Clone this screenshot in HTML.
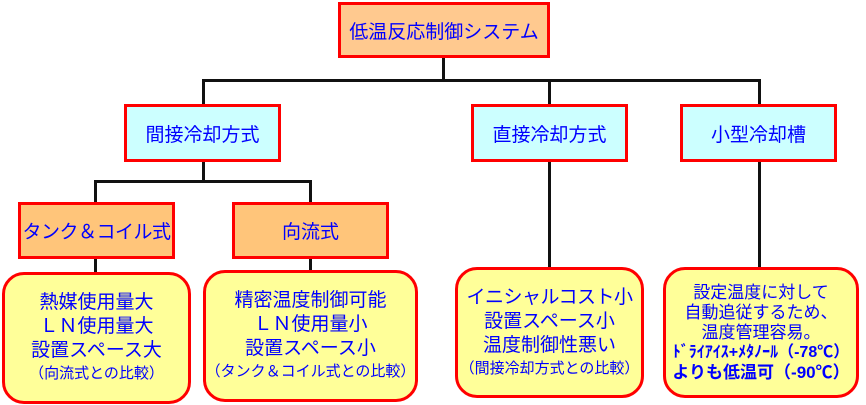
<!DOCTYPE html>
<html><head><meta charset="utf-8"><style>
body{margin:0;width:866px;height:405px;background:#fff;position:relative;overflow:hidden;font-family:"Liberation Sans","Noto Sans CJK JP",sans-serif;color:#0000ff}
.b{position:absolute;box-sizing:border-box;border:3px solid #ff0000;display:flex;align-items:center;justify-content:center;text-align:center;font-size:19px;white-space:nowrap}
.o{background:#ffc98f}.o2{background:#ffc57a}.c{background:#ccffff}.y{background:#ffff99;border-radius:22px;flex-direction:column;font-size:19px;line-height:24px;border-width:3px}
.l{position:absolute;background:#111}
.s{font-size:15px;line-height:22px}
</style></head><body>
<div class="l" style="left:442px;top:57px;width:3px;height:24px"></div>
<div class="l" style="left:202px;top:79px;width:559px;height:3px"></div>
<div class="l" style="left:202px;top:79px;width:3px;height:26px"></div>
<div class="l" style="left:548px;top:79px;width:3px;height:26px"></div>
<div class="l" style="left:758px;top:79px;width:3px;height:26px"></div>
<div class="l" style="left:202px;top:160px;width:3px;height:22px"></div>
<div class="l" style="left:94px;top:180px;width:218px;height:3px"></div>
<div class="l" style="left:94px;top:180px;width:3px;height:94px"></div>
<div class="l" style="left:309px;top:180px;width:3px;height:92px"></div>
<div class="l" style="left:548px;top:160px;width:3px;height:108px"></div>
<div class="l" style="left:758px;top:160px;width:3px;height:108px"></div>

<div class="b o" style="left:338px;top:2px;width:212px;height:56px">低温反応制御システム</div>
<div class="b c" style="left:124px;top:104px;width:157px;height:58px">間接冷却方式</div>
<div class="b c" style="left:471px;top:104px;width:157px;height:58px">直接冷却方式</div>
<div class="b c" style="left:680px;top:104px;width:157px;height:58px">小型冷却槽</div>
<div class="b o2" style="left:18px;top:202px;width:157px;height:57px;letter-spacing:-0.5px">タンク＆コイル式</div>
<div class="b o2" style="left:232px;top:202px;width:157px;height:57px">向流式</div>

<div class="b y" style="left:2px;top:272px;width:189px;height:132px"><div>熱媒使用量大</div><div>ＬＮ使用量大</div><div>設置スペース大</div><div class="s">（向流式との比較）</div></div>
<div class="b y" style="left:203px;top:270px;width:215px;height:132px"><div>精密温度制御可能</div><div>ＬＮ使用量小</div><div>設置スペース小</div><div class="s">（タンク＆コイル式との比較）</div></div>
<div class="b y" style="left:455px;top:267px;width:189px;height:131px"><div style="letter-spacing:-0.5px">イニシャルコスト小</div><div>設置スペース小</div><div>温度制御性悪い</div><div class="s">（間接冷却方式との比較）</div></div>
<div class="b y" style="left:663px;top:267px;width:196px;height:131px;font-size:17px;line-height:20px"><div>設定温度に対して</div><div>自動追従するため、</div><div>温度管理容易。</div><div style="font-weight:bold;font-size:16px">ﾄﾞﾗｲｱｲｽ+ﾒﾀﾉｰﾙ（-78℃）</div><div style="font-weight:bold">よりも低温可（-90℃）</div></div>
</body></html>
